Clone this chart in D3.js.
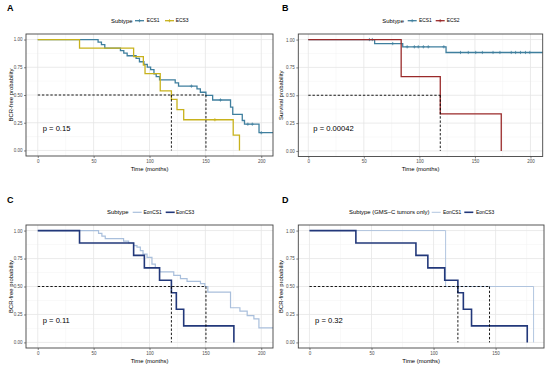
<!DOCTYPE html>
<html><head><meta charset="utf-8">
<script src="https://cdn.jsdelivr.net/npm/d3@7"></script>
<style>
body{margin:0;background:#fff;}
svg{display:block;font-family:"Liberation Sans",Arial,Helvetica,sans-serif;}
</style></head>
<body><svg id="c" width="550" height="367"></svg>
<script>
// ---------- data ----------
const timeTicks = [0, 50, 100, 150, 200];
const timeTicksD = [0, 50, 100, 150];
const probTicks = [0, 0.25, 0.5, 0.75, 1];
const probLabels = ["0.00", "0.25", "0.50", "0.75", "1.00"];

// Panel A
const ECS1_A_time = [0, 54, 57, 60, 74, 77, 80, 88, 91, 95, 98, 101, 104, 106, 109, 123, 126, 142.5, 145.5, 150.5, 156.5, 172.5, 174.5, 183, 185, 198];
const ECS1_A_surv = [1, 0.977, 0.954, 0.923, 0.9, 0.877, 0.854, 0.83, 0.8, 0.776, 0.752, 0.728, 0.69, 0.665, 0.637, 0.61, 0.58, 0.555, 0.525, 0.497, 0.455, 0.39, 0.325, 0.27, 0.237, 0.16];
const ECS1_A_censor = [137.5, 163.5, 188, 192, 200];
const ECS3_A_time = [0, 37.4, 85.8, 94.5, 96, 109.6, 119.6, 124.6, 130.6, 174.9, 180.5];
const ECS3_A_surv = [1, 0.923, 0.846, 0.769, 0.692, 0.538, 0.461, 0.369, 0.277, 0.138, 0];
const ECS3_A_censor = [158.5];

// Panel B
const ECS1_B_time = [0, 59.7, 85, 124];
const ECS1_B_surv = [1, 0.964, 0.935, 0.884];
const ECS1_B_censor = [55, 57.6, 76, 89, 95.5, 99, 103.6, 108, 122, 137, 144, 150.7, 156.7, 166.3, 172.5, 182.7, 186.6, 191, 195.5, 199.4];
const ECS2_B_time = [0, 83.6, 118.8, 173.7];
const ECS2_B_surv = [1, 0.667, 0.333, 0];

// Panel C
const EonCS1_C_time = [0, 54.4, 57.4, 60.4, 76.8, 81.3, 85.8, 88.8, 91.8, 94.2, 97.8, 102.2, 105.2, 109.1, 121.7, 127.7, 133.6, 145.6, 149.5, 152.2, 172.5, 180.9, 187.4, 193.4, 197.9];
const EonCS1_C_surv = [1, 0.975, 0.95, 0.928, 0.905, 0.889, 0.866, 0.852, 0.82, 0.79, 0.76, 0.70, 0.67, 0.63, 0.60, 0.57, 0.546, 0.525, 0.50, 0.45, 0.31, 0.28, 0.24, 0.21, 0.13];
const EonCS3_C_time = [0, 37.4, 85.8, 95.4, 109, 119.6, 124, 130.6, 175.5];
const EonCS3_C_surv = [1, 0.889, 0.778, 0.667, 0.556, 0.444, 0.296, 0.148, 0];

// Panel D
const EonCS1_D_time = [0, 109.7, 180.6];
const EonCS1_D_surv = [1, 0.5, 0];
const EonCS3_D_time = [0, 37.4, 85.8, 95.4, 109, 119.6, 124, 130.6, 175.5];
const EonCS3_D_surv = [1, 0.889, 0.778, 0.667, 0.556, 0.444, 0.296, 0.148, 0];

const pValues = ["p = 0.15", "p = 0.00042", "p = 0.11", "p = 0.32"];

// ---------- drawing ----------
const svg = d3.select("#c");
const FONT = '"Liberation Sans",Arial,Helvetica,sans-serif';

function stepPts(times, survs, end) {
  const pts = [];
  for (let i = 0; i < times.length; i++) {
    if (i > 0) pts.push([times[i], survs[i - 1]]);
    pts.push([times[i], survs[i]]);
  }
  if (end !== undefined) pts.push([end, survs[survs.length - 1]]);
  return pts;
}
function survAt(times, survs, t) {
  let s = survs[0];
  for (let i = 0; i < times.length; i++) if (times[i] <= t) s = survs[i];
  return s;
}

function panel(cfg, idx) {
  const g = svg.append("g").attr("transform", `translate(${cfg.ox},${cfg.oy})`);
  const x = d3.scaleLinear().domain(cfg.xdom).range([cfg.left, cfg.right]);
  const y = d3.scaleLinear().domain([-0.05, 1.05]).range([cfg.bottom, cfg.top]);
  const clipId = "clip" + idx;
  g.append("clipPath").attr("id", clipId).append("rect")
    .attr("x", cfg.left).attr("y", cfg.top).attr("width", cfg.right - cfg.left).attr("height", cfg.bottom - cfg.top);

  // grid
  const minorX = cfg.xticks.slice(0, -1).map((d, i) => (d + cfg.xticks[i + 1]) / 2);
  minorX.push(cfg.xticks[cfg.xticks.length - 1] + 25);
  const minorY = [0.125, 0.375, 0.625, 0.875];
  const grid = g.append("g").attr("clip-path", `url(#${clipId})`);
  grid.selectAll(".mx").data(minorX).join("line")
    .attr("x1", d => x(d)).attr("x2", d => x(d)).attr("y1", cfg.top).attr("y2", cfg.bottom)
    .attr("stroke", "#f2f2f2").attr("stroke-width", 0.5);
  grid.selectAll(".my").data(minorY).join("line")
    .attr("y1", d => y(d)).attr("y2", d => y(d)).attr("x1", cfg.left).attr("x2", cfg.right)
    .attr("stroke", "#f2f2f2").attr("stroke-width", 0.5);
  grid.selectAll(".gx").data(cfg.xticks).join("line")
    .attr("x1", d => x(d)).attr("x2", d => x(d)).attr("y1", cfg.top).attr("y2", cfg.bottom)
    .attr("stroke", "#e6e6e6").attr("stroke-width", 0.8);
  grid.selectAll(".gy").data(probTicks).join("line")
    .attr("y1", d => y(d)).attr("y2", d => y(d)).attr("x1", cfg.left).attr("x2", cfg.right)
    .attr("stroke", "#e6e6e6").attr("stroke-width", 0.8);

  // axes
  const xa = g.append("g").attr("transform", `translate(0,${cfg.bottom})`)
    .call(d3.axisBottom(x).tickValues(cfg.xticks).tickSize(2).tickPadding(1.5));
  const ya = g.append("g").attr("transform", `translate(${cfg.left},0)`)
    .call(d3.axisLeft(y).tickValues(probTicks).tickFormat((d, i) => probLabels[i]).tickSize(2).tickPadding(1.5));
  [xa, ya].forEach(a => {
    a.select(".domain").remove();
    a.selectAll(".tick line").attr("stroke", "#333").attr("stroke-width", 0.6);
    a.selectAll(".tick text").attr("fill", "#4d4d4d").attr("font-size", 4.5).attr("font-family", FONT);
  });

  const plot = g.append("g").attr("clip-path", `url(#${clipId})`);
  // curves
  const line = d3.line().x(d => x(d[0])).y(d => y(d[1]));
  cfg.curves.forEach(c => {
    plot.append("path").datum(stepPts(c.time, c.surv, c.end)).attr("d", line)
      .attr("fill", "none").attr("stroke", c.color).attr("stroke-width", c.width);
    (c.censor || []).forEach(t => {
      const s = survAt(c.time, c.surv, t);
      const px = x(t), py = y(s);
      plot.append("path").attr("d", `M${px - 1.6},${py}H${px + 1.6}M${px},${py - 1.6}V${py + 1.6}`)
        .attr("stroke", c.color).attr("stroke-width", 0.75);
    });
  });
  // median lines
  const dash = "2.4,1.8";
  plot.append("line").attr("x1", x(0)).attr("x2", x(cfg.medH)).attr("y1", y(0.5)).attr("y2", y(0.5))
    .attr("stroke", "#000").attr("stroke-width", 0.9).attr("stroke-dasharray", dash);
  cfg.medV.forEach(t => {
    plot.append("line").attr("x1", x(t)).attr("x2", x(t)).attr("y1", y(0.5)).attr("y2", y(0))
      .attr("stroke", "#000").attr("stroke-width", 0.9).attr("stroke-dasharray", dash);
  });

  // border
  g.append("rect").attr("x", cfg.left).attr("y", cfg.top).attr("width", cfg.right - cfg.left).attr("height", cfg.bottom - cfg.top)
    .attr("fill", "none").attr("stroke", "#444").attr("stroke-width", 0.9);

  // p value
  g.append("text").attr("x", x(4.5)).attr("y", y(0.2)).attr("dy", "0.35em")
    .attr("font-size", 7.6).attr("fill", "#000").attr("font-family", FONT).text(pValues[idx]);

  // titles
  g.append("text").attr("x", (cfg.left + cfg.right) / 2).attr("y", cfg.bottom + 14.5).attr("text-anchor", "middle")
    .attr("font-size", 5.9).attr("fill", "#000").attr("font-family", FONT).text("Time (months)");
  g.append("text").attr("transform", `translate(${cfg.ytx},${(cfg.top + cfg.bottom) / 2}) rotate(-90)`)
    .attr("text-anchor", "middle").attr("dy", "0.35em")
    .attr("font-size", 5.9).attr("fill", "#000").attr("font-family", FONT).text(cfg.ytitle);

  // panel letter
  g.append("text").attr("x", cfg.letterX).attr("y", cfg.letterY).attr("font-size", 9).attr("font-weight", "bold")
    .attr("font-family", FONT).attr("fill", "#000").text(cfg.letter);

  // legend
  const L = cfg.legend;
  g.append("text").attr("x", L.titleX).attr("y", L.y).attr("dy", "0.35em").attr("font-size", 5.9)
    .attr("font-family", FONT).attr("fill", "#000").text(L.title);
  L.items.forEach((it, i) => {
    const c = cfg.curves[i];
    g.append("line").attr("x1", it.kx).attr("x2", it.kx + 9).attr("y1", L.y).attr("y2", L.y)
      .attr("stroke", c.color).attr("stroke-width", c.width);
    if (L.plus) {
      g.append("path").attr("d", `M${it.kx + 4.5 - 1.6},${L.y}H${it.kx + 4.5 + 1.6}M${it.kx + 4.5},${L.y - 1.6}V${L.y + 1.6}`)
        .attr("stroke", c.color).attr("stroke-width", 0.75);
    }
    g.append("text").attr("x", it.tx).attr("y", L.y).attr("dy", "0.35em").attr("font-size", 4.9)
      .attr("font-family", FONT).attr("fill", "#000").text(it.label);
  });
}

const teal = "#3f7f9e", gold = "#c8b21c", red = "#9a2a2a", light = "#a9bfdc", navy = "#22387a";

panel({
  ox: 0, oy: 0, left: 26, right: 273, top: 34, bottom: 156, xdom: [-10.5, 210.5], xticks: timeTicks,
  curves: [
    { time: ECS1_A_time, surv: ECS1_A_surv, censor: ECS1_A_censor, end: 215, color: teal, width: 1.3 },
    { time: ECS3_A_time, surv: ECS3_A_surv, censor: ECS3_A_censor, color: gold, width: 1.3 }
  ],
  medH: 150.5, medV: [119.6, 150.5], ytitle: "BCR-free probability", ytx: 11, letter: "A", letterX: 7, letterY: 11,
  legend: { y: 20.7, title: "Subtype", titleX: 111, plus: true,
    items: [{ kx: 135, tx: 146.7, label: "ECS1" }, { kx: 165, tx: 175.7, label: "ECS3" }] }
}, 0);

panel({
  ox: 275, oy: 0, left: 23.3, right: 267.7, top: 34, bottom: 156.5, xdom: [-9, 211], xticks: timeTicks,
  curves: [
    { time: ECS1_B_time, surv: ECS1_B_surv, censor: ECS1_B_censor, end: 215, color: teal, width: 1.3 },
    { time: ECS2_B_time, surv: ECS2_B_surv, color: red, width: 1.3 }
  ],
  medH: 118.8, medV: [118.8], ytitle: "Survival probability", ytx: 6, letter: "B", letterX: 7, letterY: 11,
  legend: { y: 20.7, title: "Subtype", titleX: 107.3, plus: true,
    items: [{ kx: 132.7, tx: 144, label: "ECS1" }, { kx: 160.7, tx: 171.7, label: "ECS2" }] }
}, 1);

panel({
  ox: 0, oy: 183, left: 26, right: 273, top: 42, bottom: 165, xdom: [-10.5, 210.5], xticks: timeTicks,
  curves: [
    { time: EonCS1_C_time, surv: EonCS1_C_surv, end: 215, color: light, width: 1.2 },
    { time: EonCS3_C_time, surv: EonCS3_C_surv, color: navy, width: 1.6 }
  ],
  medH: 150.5, medV: [119.6, 150.5], ytitle: "BCR-free probability", ytx: 11, letter: "C", letterX: 7, letterY: 19.5,
  legend: { y: 29.3, title: "Subtype", titleX: 107, plus: false,
    items: [{ kx: 132.7, tx: 143.5, label: "EonCS1" }, { kx: 165.7, tx: 176, label: "EonCS3" }] }
}, 2);

panel({
  ox: 275, oy: 183, left: 23.3, right: 269, top: 42, bottom: 165, xdom: [-9, 189], xticks: timeTicksD,
  curves: [
    { time: EonCS1_D_time, surv: EonCS1_D_surv, color: light, width: 0.9 },
    { time: EonCS3_D_time, surv: EonCS3_D_surv, color: navy, width: 1.6 }
  ],
  medH: 145.1, medV: [119.6, 145.1], ytitle: "BCR-free probability", ytx: 6, letter: "D", letterX: 7, letterY: 19.5,
  legend: { y: 29.3, title: "Subtype (GMS\u2212C tumors only)", titleX: 74, plus: false,
    items: [{ kx: 156.7, tx: 168, label: "EonCS1" }, { kx: 189.3, tx: 201, label: "EonCS3" }] }
}, 3);
</script>
</body></html>
